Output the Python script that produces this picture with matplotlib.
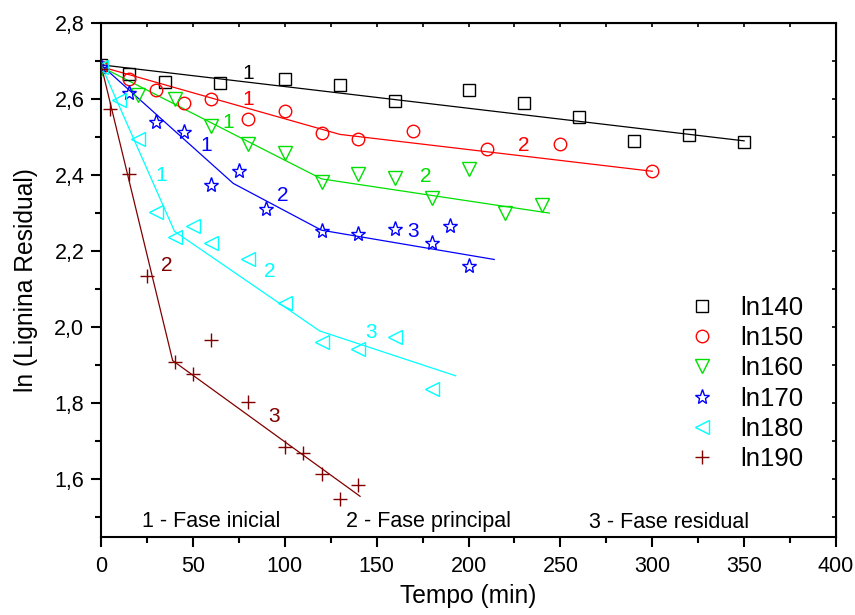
import matplotlib
matplotlib.use("Agg")
import matplotlib.pyplot as plt
from matplotlib.ticker import MultipleLocator, FuncFormatter

plt.rcParams['font.family'] = ['Liberation Sans', 'DejaVu Sans']

# Measured ln(residual lignin) vs time for each temperature
t140 = [0, 15, 35, 65, 100, 130, 160, 200, 230, 260, 290, 320, 350]
y140 = [2.69, 2.666, 2.644, 2.642, 2.652, 2.636, 2.594, 2.623, 2.589, 2.552, 2.489, 2.505, 2.486]

t150 = [0, 15, 30, 45, 60, 80, 100, 120, 140, 170, 210, 250, 300]
y150 = [2.685, 2.652, 2.623, 2.589, 2.600, 2.547, 2.568, 2.510, 2.494, 2.515, 2.468, 2.481, 2.410]

t160 = [0, 20, 40, 60, 80, 100, 120, 140, 160, 180, 200, 220, 240]
y160 = [2.68, 2.610, 2.600, 2.528, 2.481, 2.457, 2.383, 2.402, 2.391, 2.341, 2.415, 2.299, 2.320]

t170 = [0, 15, 30, 45, 60, 75, 90, 120, 140, 160, 180, 190, 200]
y170 = [2.685, 2.615, 2.539, 2.513, 2.373, 2.412, 2.312, 2.254, 2.244, 2.259, 2.222, 2.267, 2.162]

t180 = [0, 10, 20, 30, 40, 50, 60, 80, 100, 120, 140, 160, 180]
y180 = [2.685, 2.597, 2.494, 2.304, 2.238, 2.267, 2.222, 2.180, 2.064, 1.960, 1.943, 1.975, 1.837]

t190 = [0, 5, 15, 25, 40, 50, 60, 80, 100, 110, 120, 130, 140]
y190 = [2.68, 2.573, 2.402, 2.135, 1.909, 1.877, 1.967, 1.803, 1.685, 1.669, 1.613, 1.547, 1.584]

# Piecewise linear fits (break points between phases)
fit140_t = [0, 350]
fit140_y = [2.69, 2.49]
fit150_t = [0, 130, 300]
fit150_y = [2.685, 2.507, 2.410]
fit160_t = [0, 120, 244]
fit160_y = [2.685, 2.39, 2.30]
fit170_t = [0, 72, 120, 214]
fit170_y = [2.69, 2.378, 2.255, 2.178]
fit180_t = [0, 40, 119, 193]
fit180_y = [2.69, 2.252, 1.99, 1.872]
fit190_t = [0, 39, 141]
fit190_y = [2.69, 1.912, 1.555]

series_names = ['ln140', 'ln150', 'ln160', 'ln170', 'ln180', 'ln190']

# Phase numbers written next to each fitted segment: (text, t, y)
phase_marks = [
    [('1', 80, 2.666)],
    [('1', 80, 2.600), ('2', 230, 2.478)],
    [('1', 69, 2.539), ('2', 177, 2.397)],
    [('1', 57, 2.478), ('2', 99, 2.346), ('3', 170, 2.252)],
    [('1', 33, 2.400), ('2', 92, 2.146), ('3', 147, 1.985)],
    [('2', 36, 2.162), ('3', 94, 1.766)],
]

phase_notes = ['1 - Fase inicial', '2 - Fase principal', '3 - Fase residual']
phase_note_t = [60, 178, 309]
phase_note_y = [1.489, 1.489, 1.485]

colors = ['black', '#ff0000', '#00e000', '#0000ff', '#00ffff', '#800000']
markers = ['s', 'o', 'v', '*', '<', '+']
msizes = [8, 9, 10, 11, 10, 10]

data = [(t140, y140), (t150, y150), (t160, y160), (t170, y170), (t180, y180), (t190, y190)]
fits = [(fit140_t, fit140_y), (fit150_t, fit150_y), (fit160_t, fit160_y),
        (fit170_t, fit170_y), (fit180_t, fit180_y), (fit190_t, fit190_y)]

fig = plt.figure(figsize=(8.55, 6.15), dpi=100)
ax = fig.add_axes([101 / 855, 1 - 537 / 615, 735 / 855, 514 / 615])

handles = []
for (t, y), (ft, fy), c, m, ms, name in zip(data, fits, colors, markers, msizes, series_names):
    ax.plot(ft, fy, color=c, lw=0.9, zorder=2)
    h, = ax.plot(t, y, linestyle='none', marker=m, markersize=ms,
                 markerfacecolor='none', markeredgecolor=c, markeredgewidth=1.0,
                 label=name, zorder=3)
    handles.append(h)

for marks, c in zip(phase_marks, colors):
    for txt, tx, ty in marks:
        ax.text(tx, ty, txt, color=c, fontsize=15, ha='center', va='center')

for note, nt, ny in zip(phase_notes, phase_note_t, phase_note_y):
    ax.text(nt, ny, note, fontsize=15.5, ha='center', va='center', color='black')

ax.set_xlim(0, 400)
ax.set_ylim(1.448, 2.8)

ax.xaxis.set_major_locator(MultipleLocator(50))
ax.xaxis.set_minor_locator(MultipleLocator(25))
ax.yaxis.set_major_locator(MultipleLocator(0.2))
ax.yaxis.set_minor_locator(MultipleLocator(0.1))
ax.yaxis.set_major_formatter(FuncFormatter(lambda v, p: f"{v:.1f}".replace('.', ',')))
ax.xaxis.set_major_formatter(FuncFormatter(lambda v, p: f"{v:.0f}"))

ax.tick_params(which='major', direction='out', length=7, width=1.5, labelsize=15.5)
ax.tick_params(axis='x', which='major', pad=7)
ax.tick_params(axis='y', which='major', pad=5)
ax.tick_params(which='minor', direction='out', length=4, width=1.5)

for s in ax.spines.values():
    s.set_linewidth(1.5)

# small inward ticks on the top and right edges
top = ax.secondary_xaxis('top')
top.xaxis.set_major_locator(MultipleLocator(25))
top.tick_params(direction='in', length=3, width=1.2, labeltop=False)
right = ax.secondary_yaxis('right')
right.yaxis.set_major_locator(MultipleLocator(0.1))
right.tick_params(direction='in', length=3, width=1.2, labelright=False)

ax.set_xlabel('Tempo (min)', fontsize=17.7, labelpad=5)
ax.set_ylabel('ln (Lignina Residual)', fontsize=17.7, labelpad=12)

ax.legend(handles=handles, loc='upper left', bbox_to_anchor=(689 / 855, 1 - 296 / 615),
          bbox_transform=fig.transFigure, frameon=False, fontsize=18.5,
          numpoints=1, handlelength=1.0, handletextpad=0.98, labelspacing=0.24,
          borderpad=0, borderaxespad=0)

fig.savefig('out.png', dpi=100)
